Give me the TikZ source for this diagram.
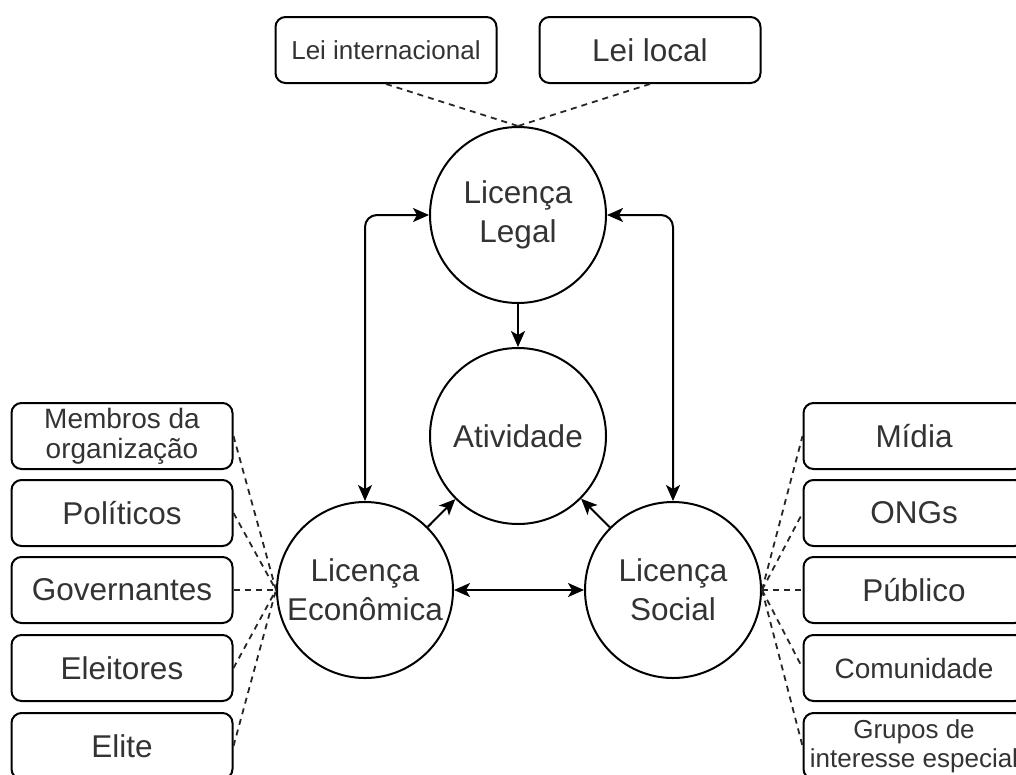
\documentclass[tikz,border=0pt]{standalone}
\usepackage{fontspec}
\setmainfont{Liberation Sans}
\usepackage{xcolor}
\usetikzlibrary{arrows.meta,positioning}

\definecolor{tinta}{gray}{0.2}
\tikzset{
  grande/.style={font=\fontsize{31.5}{39}\selectfont},
  medio/.style={font=\fontsize{28}{30}\selectfont},
  pequeno/.style={font=\fontsize{26}{29}\selectfont},
  licenca/.style={draw, circle, line width=2pt, minimum size=176pt, inner sep=0pt, align=center, text=tinta, grande},
  caixa/.style={draw, rounded corners=10pt, line width=2pt, minimum width=221pt, minimum height=66pt, inner sep=0pt, align=center, text=tinta},
  ligacao/.style={line width=1.8pt, dash pattern=on 6pt off 5pt, draw=black!85},
  seta/.style={line width=2pt, -{Stealth[length=16pt,width=14pt,inset=4pt]}},
  seta2/.style={line width=2pt, {Stealth[length=16pt,width=14pt,inset=4pt]}-{Stealth[length=16pt,width=14pt,inset=4pt]}}
}

\begin{document}
\begin{tikzpicture}[x=1pt,y=-1pt]
  \useasboundingbox (0,0) rectangle (1016,774);
  \clip (0,0) rectangle (1016,774);

  % circulos
  \node[licenca] (legal) at (518,215) {Licença\\Legal};
  \node[licenca] (ativ) at (518,436) {Atividade};
  \node[licenca] (econ) at (365,590) {Licença\\Econômica};
  \node[licenca] (social) at (673,590) {Licença\\Social};

  % leis
  \node[caixa, pequeno] (leiint) at (386,50) {Lei internacional};
  \node[caixa, grande] (leiloc) at (650,50) {Lei local};
  \draw[ligacao] (leiint.south) -- (legal.north);
  \draw[ligacao] (leiloc.south) -- (legal.north);

  % lado economico
  \foreach \y/\nome/\txt/\f in {436/mem/{Membros da\\organização}/medio, 513/pol/{Políticos}/grande, 590/gov/{Governantes}/grande, 668/ele/{Eleitores}/grande, 746/eli/{Elite}/grande}{
    \node[caixa, \f] (\nome) at (122,\y) {\txt};
    \draw[ligacao] (\nome.east) -- (econ.west);
  }

  % lado social
  \foreach \y/\nome/\txt/\f in {436/mid/{Mídia}/grande, 513/ong/{ONGs}/grande, 590/pub/{Público}/grande, 668/com/{Comunidade}/medio, 746/gru/{Grupos de\\interesse especial}/pequeno}{
    \node[caixa, \f] (\nome) at (914,\y) {\txt};
    \draw[ligacao] (social.east) -- (\nome.west);
  }

  % setas
  \draw[seta] (legal) -- (ativ);
  \draw[seta] (econ) -- (ativ);
  \draw[seta] (social) -- (ativ);
  \draw[seta2] (econ) -- (social);
  \draw[seta2, rounded corners=12pt] (legal.west) -| (econ.north);
  \draw[seta2, rounded corners=12pt] (legal.east) -| (social.north);
\end{tikzpicture}
\end{document}
